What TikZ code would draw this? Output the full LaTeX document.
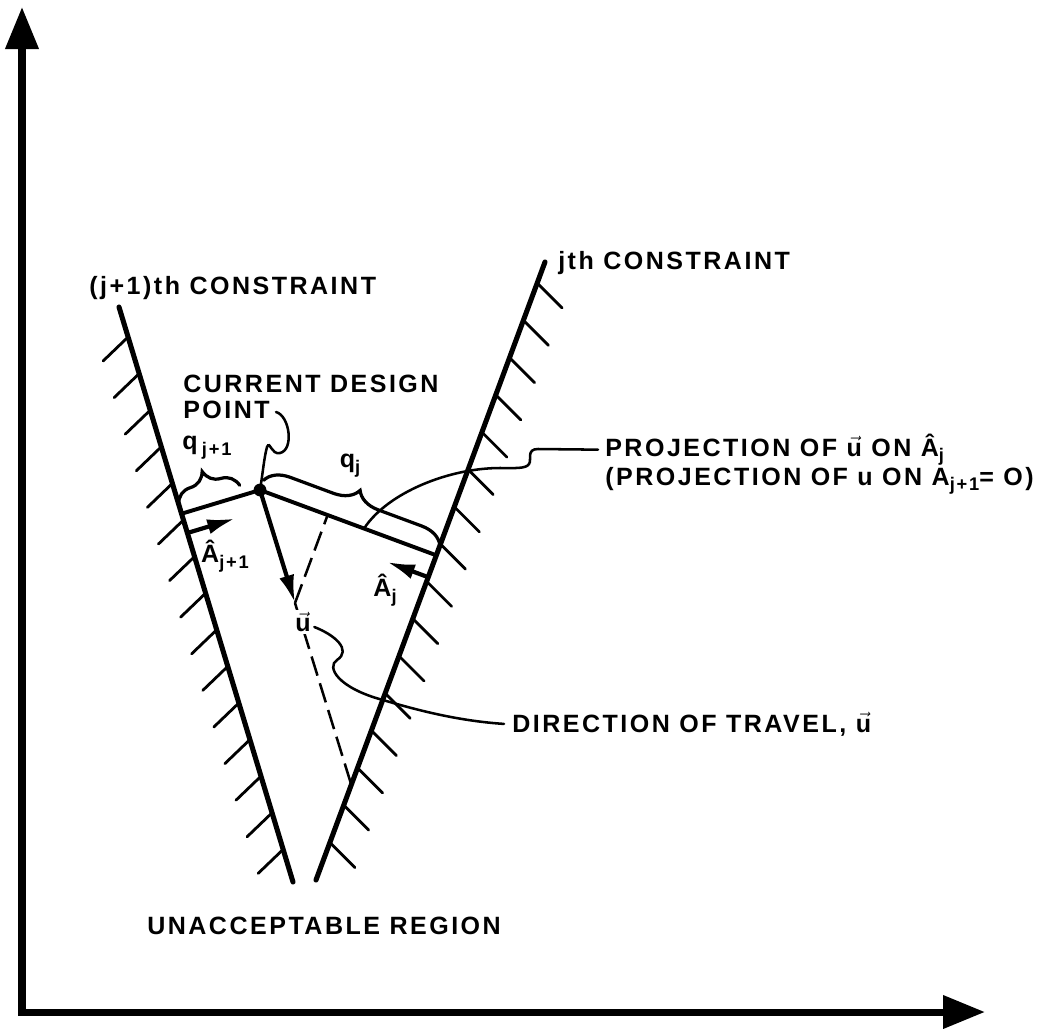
\documentclass[tikz,border=0pt]{standalone}
\usepackage{fontspec}
\setmainfont{Liberation Sans}[LetterSpace=10]
\usetikzlibrary{calc,arrows.meta,decorations.pathreplacing}
\newcommand\lowsub[1]{\raisebox{-0.45ex}{\fontsize{13pt}{13pt}\selectfont #1}}
\newcommand\uv{\ensuremath{\vec{\mbox{u}}}}
\begin{document}
\begin{tikzpicture}[x=0.25mm,y=-0.25mm,
  axis/.style={line width=5pt, line join=miter, {Triangle[length=10.5mm,width=8mm]}-{Triangle[length=10.5mm,width=8mm]}},
  constraint/.style={line width=3.6pt, line cap=round},
  hatch/.style={line width=2pt, line cap=round},
  seg/.style={line width=2.8pt, line join=round},
  qbrace/.style={line width=2.3pt, line cap=round, decorate, decoration={brace, amplitude=6mm, raise=2.6mm}},
  leader/.style={line width=1.8pt, line cap=round},
  dashline/.style={line width=1.8pt, dash pattern=on 5mm off 2mm},
  vecarrow/.style={line width=3pt, -{Latex[length=7mm,width=3.8mm]}},
  lbl/.style={font=\bfseries\fontsize{17.8pt}{21pt}\selectfont, inner sep=0pt, anchor=base west},
  sym/.style={font=\bfseries\fontsize{17.8pt}{21pt}\selectfont, inner sep=1pt}]
\useasboundingbox (0,0) rectangle (1055,1028);
% axes
\coordinate (O) at (22,1012);
\coordinate (Ytip) at (22,7);
\coordinate (Xtip) at (985,1012);
\draw[axis] (Ytip) -- (O) -- (Xtip);
% constraints
\coordinate (L1) at (119,307);
\coordinate (L2) at (293,882);
\coordinate (R1) at (545,262);
\coordinate (R2) at (316,880);
\draw[constraint] (L1) -- (L2);
\draw[constraint] (R1) -- (R2);
\foreach \k in {0,...,14} {
  \pgfmathsetmacro\t{(30+\k*36.6)/575}
  \draw[hatch] ($(L1)!\t!(L2)$) -- ++(-25,24);
}
\foreach \k in {0,...,15} {
  \pgfmathsetmacro\t{(21+\k*37.3)/618}
  \draw[hatch] ($(R1)!\t!(R2)$) -- ++(25,25);
}
% design point and perpendiculars
\coordinate (D) at (260,490);
\coordinate (LF) at ($(L1)!(D)!(L2)$);
\coordinate (RF) at ($(R1)!(D)!(R2)$);
\coordinate (U) at (295,603);
\coordinate (W) at (intersection of D--U and R1--R2);
\coordinate (U2) at ($(U)+(R1)-(R2)$);
\coordinate (P) at (intersection of U--U2 and D--RF);
\draw[dashline] (U) -- (P);
\draw[dashline] (U) -- (W);
\draw[seg] (LF) -- (D) -- (RF);
\fill (D) circle (1.6mm);
\draw[vecarrow] (D) -- (U);
% unit normals
\coordinate (Ajp0) at ($(L1)!0.393!(L2)$);
\coordinate (Ajp1) at ($(Ajp0)!12.5mm!90:(L2)$);
\draw[vecarrow] (Ajp0) -- (Ajp1);
\coordinate (Aj0) at ($(R1)!0.51!(R2)$);
\coordinate (Aj1) at ($(Aj0)!11mm!-90:(R2)$);
\draw[vecarrow] (Aj0) -- (Aj1);
% braces
\draw[qbrace] (LF) -- ($(LF)!0.78!(D)$);
\draw[qbrace] (D) -- (RF);
% labels
\node[lbl] (jpc) at (89,294) {(j+1)th CONSTRAINT};
\node[lbl] (jc) at (558,269) {jth CONSTRAINT};
\node[lbl] (cur1) at (183,392) {CURRENT DESIGN};
\node[lbl] (cur2) at (183,418) {POINT};
\node[lbl] (proj1) at (605,456) {PROJECTION OF \uv\ ON Â\lowsub{j}};
\node[lbl] (proj2) at (605,485) {(PROJECTION OF u ON A\lowsub{j+1}= O)};
\node[lbl] (dir) at (512,732) {DIRECTION OF TRAVEL, \uv};
\node[lbl] (unacc) at (147,934) {UNACCEPTABLE REGION};
\node[sym] (qjp) at (207,448) {q\,\lowsub{j+1}};
\node[sym] (qj) at (350,466) {q\lowsub{j}};
\node[sym] (Ajp) at (225,556) {Â\lowsub{j+1}};
\node[sym] (Aj) at (385,590) {Â\lowsub{j}};
\node[sym, fill=white] (ulbl) at (303,622) {\uv};
% leaders
\coordinate (PL) at ($(D)!0.59!(RF)$);
\draw[leader] ($(cur2.base east)+(6,-6)$) .. controls (290,416) and (294,450) .. (280,453) .. controls (271,455) and (270,440) .. (267,447) .. controls (264,458) and (263,472) .. (D);
\draw[leader] ($(proj1.west)+(-7,0)$) -- (538,449) .. controls (526,449) and (532,460) .. (529,464) .. controls (526,469) and (514,468) .. (500,468) .. controls (450,468) and (388,492) .. (PL);
\draw[leader] ($(ulbl.east)+(2,5)$) .. controls (335,635) and (352,650) .. (337,660) .. controls (326,667) and (338,688) .. (383,700) .. controls (420,711) and (460,721) .. ($(dir.west)+(-8,0)$);
\end{tikzpicture}
\end{document}
